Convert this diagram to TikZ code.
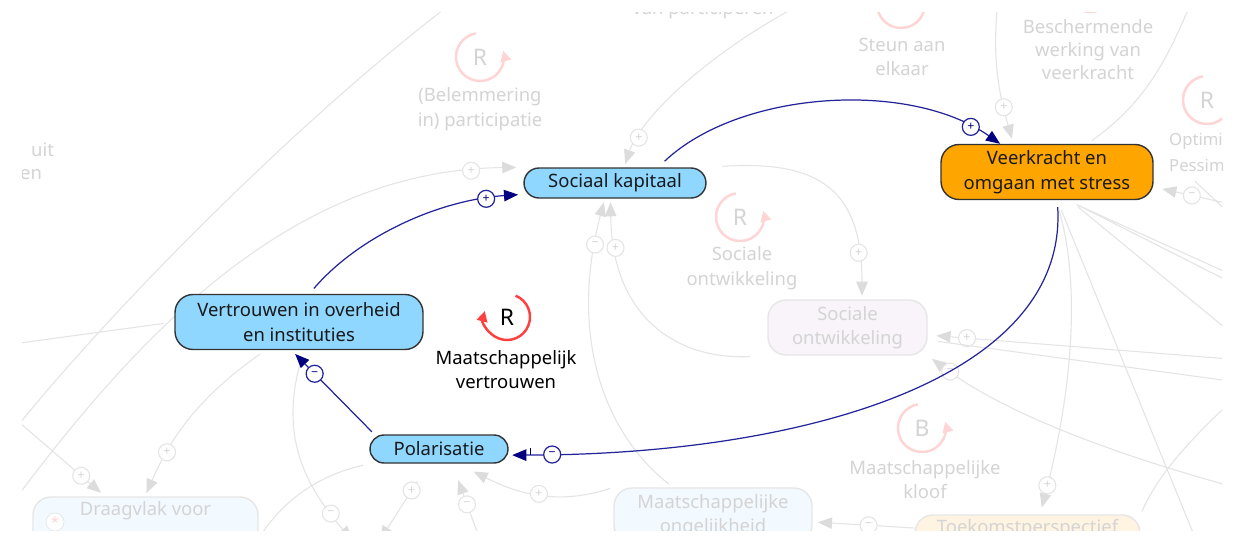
\documentclass[tikz,border=0pt]{standalone}
\usepackage{fontspec}
\setmainfont{Noto Sans}
\usetikzlibrary{
  arrows.meta,
  positioning,
  calc,
  backgrounds
}
\definecolor{cldblue}{HTML}{8FD7FF}
\definecolor{cldorange}{HTML}{FFA500}
\definecolor{cldlink}{HTML}{24249A}
\definecolor{cldhead}{HTML}{000080}
\definecolor{cldred}{HTML}{FF4040}
\definecolor{fadeline}{HTML}{E4E4E4}
\definecolor{fadehead}{HTML}{DCDCDC}
\definecolor{fadetext}{HTML}{D4D4D4}
\definecolor{fadered}{HTML}{FFD4D4}
\definecolor{fadebox}{HTML}{E6E6E6}
\definecolor{fadeviolet}{HTML}{F8F4FA}
\definecolor{fadeblue}{HTML}{F2F9FF}
\definecolor{fadeorange}{HTML}{FFF3E2}

\begin{document}
\begin{tikzpicture}[
  x=0.02cm, y=-0.02cm,
  every node/.style={font=\fontsize{10.5}{14}\selectfont},
  var/.style={draw=black!80, line width=0.8pt, align=center, inner sep=0pt, text=black!90},
  link/.style={cldlink, line width=0.7pt, -{Triangle[length=8pt,width=6.5pt,color=cldhead]}},
  pol/.style={circle, draw=cldlink, fill=white, line width=0.7pt, minimum size=0.34cm,
    inner sep=0pt, text=cldhead, font=\fontsize{7}{7}\selectfont\bfseries},
  fvar/.style={draw=fadebox, line width=0.8pt, align=center, inner sep=0pt, text=fadetext,
    rounded corners=0.36cm, minimum height=1.1cm},
  flink/.style={fadeline, line width=0.6pt},
  farrow/.style={flink, -{Triangle[length=8pt,width=6.5pt,color=fadehead]}},
  fpol/.style={circle, draw=fadeline, fill=white, line width=0.6pt, minimum size=0.34cm,
    inner sep=0pt, text=fadetext, font=\fontsize{7}{7}\selectfont},
  ftext/.style={text=fadetext, align=center},
  floop/.style={fadered, line width=1.4pt, -{Triangle[length=6pt,width=6pt]}},
  loopletter/.style={font=\fontsize{13}{13}\selectfont}
]
  \useasboundingbox (0,0) rectangle (1243,541);

  % Variables of the loop
  \node[var, fill=cldblue, rounded corners=0.3cm, minimum width=3.64cm, minimum height=0.6cm]
    (sk) at (615,183) {Sociaal kapitaal};
  \node[var, fill=cldorange, rounded corners=0.36cm, minimum width=4.24cm, minimum height=1.1cm]
    (vk) at (1047,172) {Veerkracht en\\omgaan met stress};
  \node[var, fill=cldblue, rounded corners=0.36cm, minimum width=4.96cm, minimum height=1.1cm]
    (vt) at (299,322) {Vertrouwen in overheid\\en instituties};
  \node[var, fill=cldblue, rounded corners=0.28cm, minimum width=2.76cm, minimum height=0.56cm]
    (pol) at (439,449) {Polarisatie};

  % Loop marker
  \draw[cldred, line width=1.4pt, -{Triangle[length=6pt,width=6pt]}]
    (507,317) ++(-68:23) arc[start angle=-68, end angle=195, radius=23];
  \node[loopletter] (loopR) at (507,317) {R};
  \node[align=center] (loopRlab) at (506,369.5) {Maatschappelijk\\vertrouwen};

  % Links
  \draw[link, shorten <=5pt] (sk.20) .. controls (740,90) and (910,80) ..
    node[pol, pos=0.9] {+} (vk.149);
  \draw[link, shorten <=4pt, shorten >=2pt] (vk.-70) .. controls (1068,380) and (800,455) ..
    node[pol, pos=0.95] {−} coordinate[pos=0.975] (dly) (pol.-5);
  \draw[cldhead, line width=0.7pt] (dly) -- ++(0,-7);
  \draw[link, shorten <=2pt, shorten >=3pt] ([xshift=0.1cm]pol.north west) --
    node[pol, pos=0.72] {−} (vt.-105);
  \draw[link, shorten <=4pt, shorten >=3pt] (vt.70) .. controls (360,235) and (440,200) ..
    node[pol, pos=0.85] {+} (sk.187);

  % Faded rest of the diagram
  \begin{scope}[on background layer]
    \fill[white] (0,0) rectangle (1243,541);
    \clip (22,12) rectangle (1222,530);

    % faded variables
    \node[fvar, fill=fadeviolet, minimum width=3.18cm] (so) at (847.5,327.5) {Sociale\\ontwikkeling};
    \node[fvar, fill=fadeblue, minimum width=3.96cm] (mo) at (713,515.5) {Maatschappelijke\\ongelijkheid};
    \node[fvar, fill=fadeblue, minimum width=4.5cm] (dv) at (145.5,524.5) {Draagvlak voor\\\strut};
    \node[fvar, fill=fadeorange, minimum width=4.5cm] (tp) at (1027.5,542.5) {Toekomstperspectief\\\strut};
    \node[circle, draw=fadebox, fill=white, minimum size=0.36cm, inner sep=0pt, text=fadered,
      font=\fontsize{8}{8}\selectfont] (dvicon) at (55,522) {*};

    % faded loop markers
    \draw[floop] (480,57) ++(-100:24) arc[start angle=-100, end angle=-375, radius=24];
    \draw[floop] (740,217) ++(-100:24) arc[start angle=-100, end angle=-375, radius=24];
    \draw[floop] (922,428) ++(-100:24) arc[start angle=-100, end angle=-375, radius=24];
    \draw[floop] (1207,100) ++(-100:24) arc[start angle=-100, end angle=-375, radius=24];
    \draw[floop] (901,4) ++(-100:24) arc[start angle=-100, end angle=-375, radius=24];
    \draw[floop] (1090,-12) ++(-100:24) arc[start angle=-100, end angle=-375, radius=24];
    \node[loopletter, text=fadetext] (fl1) at (480,57) {R};
    \node[loopletter, text=fadetext] (fl2) at (740,217) {R};
    \node[loopletter, text=fadetext] (fl3) at (922,428) {B};
    \node[loopletter, text=fadetext] (fl4) at (1207,100) {R};

    % faded loop names
    \node[ftext] (fn1) at (480,109.5) {(Belemmering\\in) participatie};
    \node[ftext] (fn2) at (742,268) {Sociale\\ontwikkeling};
    \node[ftext] (fn3) at (925,479.5) {Maatschappelijke\\kloof};
    \node[ftext] (fn4) at (902,57) {Steun aan\\elkaar};
    \node[ftext, font=\fontsize{10.5}{13.3}\selectfont] (fn5) at (1088,49.5) {Beschermende\\werking van\\veerkracht};
    \node[ftext] (fn6) at (703,10) {van participeren};
    \node[ftext, anchor=west, font=\fontsize{9.5}{14}\selectfont] (fn7) at (1163,141) {Optimis};
    \node[ftext, anchor=west, font=\fontsize{9.5}{14}\selectfont] (fn8) at (1163,165) {Pessimi};
    \node[ftext, anchor=west] (fn9) at (25,150) {uit};
    \node[ftext, anchor=west] (fn10) at (14,175) {en};

    % free ends at the border
    \coordinate (t1) at (443,10);
    \coordinate (t2) at (790,10);
    \coordinate (t3) at (997,10);
    \coordinate (t4) at (1188,10);
    \coordinate (l1) at (20,423);
    \coordinate (l2) at (20,493);
    \coordinate (l3) at (20,343);
    \coordinate (b1) at (352,540);
    \coordinate (b2) at (255,545);
    \coordinate (b3) at (380,540);
    \coordinate (b4) at (482,545);
    \coordinate (b5) at (1198,545);
    \coordinate (r1) at (1230,204);
    \coordinate (r2) at (1230,214);
    \coordinate (r3) at (1230,274);
    \coordinate (r4) at (1230,282);
    \coordinate (r5) at (1230,332);
    \coordinate (r6) at (1230,359);
    \coordinate (r7) at (1230,381);
    \coordinate (r8) at (1230,486);
    \coordinate (r9) at (1235,398);

    % faded links, left part
    \draw[flink] (t1) .. controls (300,120) and (120,300) .. (l1);
    \draw[farrow, shorten >=3pt] (l1) -- node[fpol, pos=0.72] {+} (dv.north west -| 105,0);
    \draw[farrow, shorten >=4pt] (l2) .. controls (150,320) and (300,170) ..
      node[fpol, pos=0.92] {+} (sk.north west);
    \draw[flink, shorten <=6pt] (vt.west) -- (l3);
    \draw[farrow, shorten <=4pt, shorten >=2pt] (vt.-140) .. controls (195,400) and (170,440) ..
      node[fpol, pos=0.72] {+} (dv.north -| 145,0);
    \draw[farrow, shorten <=4pt] (vt.-80) .. controls (280,430) and (300,480) ..
      node[fpol, pos=0.85] {−} (b1);
    \draw[flink, shorten <=4pt] (pol.-168) .. controls (320,475) and (280,500) .. (b2);
    \draw[farrow, shorten <=12pt] (pol.-125) -- node[fpol, pos=0.35] {+} (b3);
    \draw[farrow, shorten >=10pt] (b4) -- node[fpol, pos=0.5] {−} (pol.-90 -| 452,0);
    \draw[farrow, shorten <=2pt, shorten >=10pt] (mo.north west) .. controls (560,505) and (520,495) ..
      node[fpol, pos=0.5] {+} (pol.-90 -| 458,0);

    % faded links, middle part
    \draw[farrow, shorten <=3pt, shorten >=2pt] (mo.north west -| 673,0) .. controls (600,430) and (570,330) ..
      node[fpol, pos=0.88] {−} (sk.-123);
    \draw[farrow, shorten <=10pt, shorten >=2pt] (so.south west) .. controls (680,360) and (612,320) ..
      node[fpol, pos=0.85] {+} (sk.-106);
    \draw[farrow, shorten <=9pt, shorten >=2pt] (sk.north east) .. controls (820,160) and (862,190) ..
      node[fpol, pos=0.84] {+} (so.north -| 862,0);
    \draw[farrow, shorten >=2pt] (t2) .. controls (700,60) and (640,120) ..
      node[fpol, pos=0.8] {+} (sk.60);
    \draw[farrow, shorten >=3pt] (tp.west |- 0,528) --
      node[fpol, pos=0.45] {−} (mo.east |- 0,522);

    % faded links, right part
    \draw[farrow, shorten >=3pt] (t3) .. controls (993,60) and (998,90) ..
      node[fpol, pos=0.75] {+} (vk.140);
    \draw[flink, shorten <=3pt] (vk.35) .. controls (1150,100) and (1170,50) .. (t4);
    \draw[farrow, shorten >=5pt] (r1) -- node[fpol, pos=0.5] {−} (vk.-8);
    \draw[flink] (vk.-5 -| 1195,0) -- (r2);
    \draw[farrow, shorten <=6pt, shorten >=4pt] (vk.-72) .. controls (1085,300) and (1065,420) ..
      node[fpol, pos=0.9] {+} (tp.north -| 1040,0);
    \draw[flink, shorten <=6pt] (vk.-70) -- (b5);
    \draw[flink, shorten <=6pt] (vk.-55) -- (r3);
    \draw[flink, shorten <=6pt] (vk.-53) -- (r4);
    \draw[flink, shorten <=6pt] (vk.-51) -- (r5);
    \draw[farrow, shorten >=5pt] (r6) -- node[fpol, pos=0.87] {+} (so.east |- 0,335);
    \draw[flink, shorten <=6pt] (so.east |- 0,340) -- (r7);
    \draw[farrow, shorten >=3pt] (r8) .. controls (1100,450) and (1000,410) ..
      node[fpol, pos=0.9] {−} (so.south east);
    \draw[flink, shorten <=2pt] (tp.north east) .. controls (1160,470) and (1200,430) .. (r9);
  \end{scope}
\end{tikzpicture}
\end{document}
